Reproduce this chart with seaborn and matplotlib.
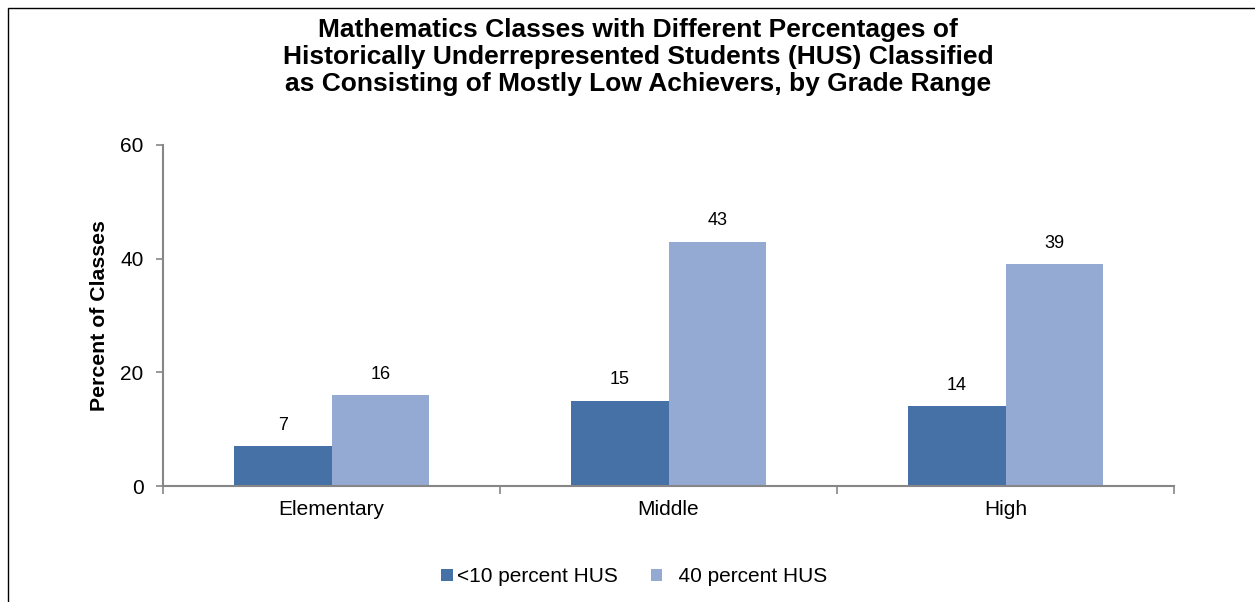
import pandas as pd
import numpy as np
import seaborn as sns
import matplotlib.pyplot as plt
from matplotlib.patches import Rectangle

# Values
grades = ['Elementary', 'Middle', 'High']
groups = ['<10 percent HUS', '  40 percent HUS']
low_hus = [7, 15, 14]
high_hus = [16, 43, 39]
y_ticks = [0, 20, 40, 60]

df = pd.DataFrame({
    'grade': grades * 2,
    'group': [groups[0]] * 3 + [groups[1]] * 3,
    'pct': low_hus + high_hus,
})

sns.set_theme(style="white")
plt.rcParams['font.family'] = ['Liberation Sans', 'DejaVu Sans']
plt.rcParams['text.color'] = 'black'
plt.rcParams['axes.labelcolor'] = 'black'
plt.rcParams['xtick.color'] = 'black'
plt.rcParams['ytick.color'] = 'black'

fig = plt.figure(figsize=(12.55, 6.02), dpi=100)
ax = fig.add_axes([163 / 1255, 1 - 486 / 602, (1174 - 163) / 1255, (486 - 145) / 602])

sns.barplot(data=df, x='grade', y='pct', hue='group', order=grades, hue_order=groups,
            palette=['#4571A6', '#95AAD3'], width=0.58, gap=0, saturation=1,
            linewidth=0, errorbar=None, ax=ax, legend=True)

for cont in ax.containers:
    ax.bar_label(cont, padding=9, fontsize=13, color='black')

# axes styling
ax.set_xlim(-0.5, 2.5)
ax.set_ylim(0, 60)
ax.set_yticks(y_ticks)
ax.set_xlabel('')
ax.set_ylabel('Percent of Classes', fontsize=15.3, fontweight='bold', labelpad=8)
ax.tick_params(axis='y', labelsize=15, length=5, width=1.2, color='#868686', direction='out', left=True, pad=9,
               labelcolor='black')
ax.tick_params(axis='x', labelsize=15, length=0, pad=10, labelcolor='black')
ax.set_xticks([-0.5, 0.5, 1.5, 2.5], minor=True)
ax.tick_params(axis='x', which='minor', length=6, width=1.2, color='#868686', bottom=True, direction='out')
for side in ['top', 'right']:
    ax.spines[side].set_visible(False)
for side in ['left', 'bottom']:
    ax.spines[side].set_color('#868686')
    ax.spines[side].set_linewidth(1.5)

leg = ax.legend(loc='center', bbox_to_anchor=(634 / 1255, 1 - 577 / 602), bbox_transform=fig.transFigure,
                ncol=2, frameon=False, fontsize=15, handlelength=0.55, handleheight=0.55,
                handletextpad=0.2, columnspacing=1.6)

fig.text(638 / 1255, 1 - 57 / 602,
         'Mathematics Classes with Different Percentages of\n'
         'Historically Underrepresented Students (HUS) Classified\n'
         'as Consisting of Mostly Low Achievers, by Grade Range',
         ha='center', va='center', fontsize=19, fontweight='bold', linespacing=1.18)

# outer frame (left and top edges visible)
fig.patches.append(Rectangle((8 / 1255, -0.05), 1.1, 1 - 8 / 602 + 0.05, transform=fig.transFigure,
                             fill=False, edgecolor='#000000', linewidth=1))

fig.savefig('out.png', dpi=100)
